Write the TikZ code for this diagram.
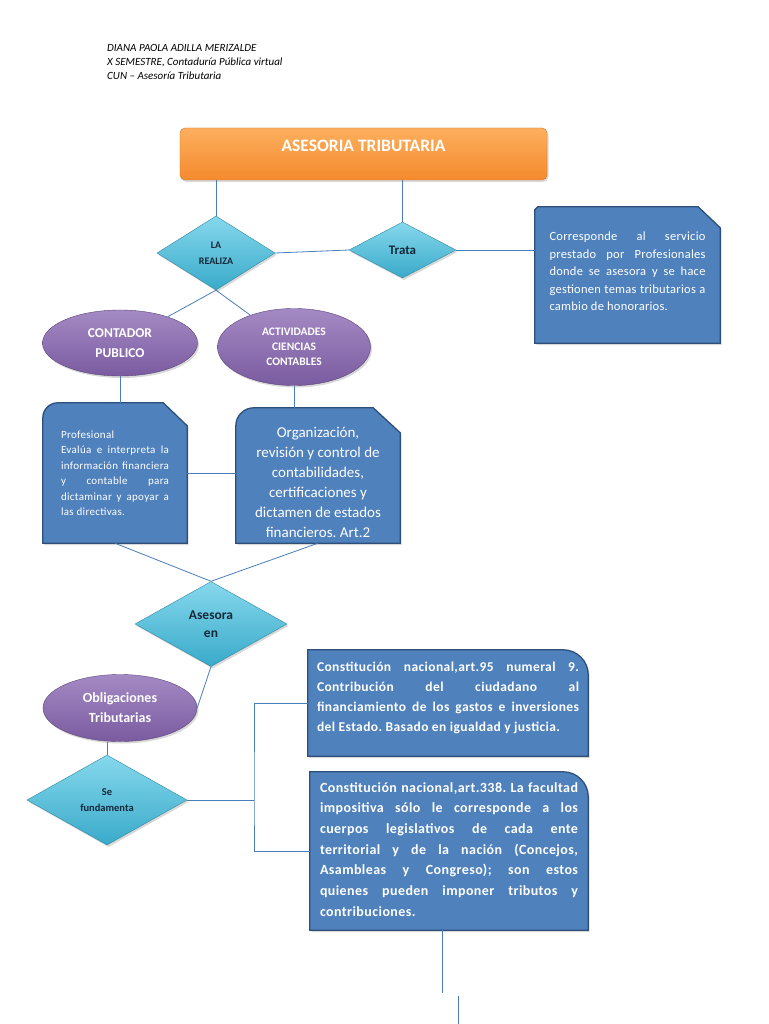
\documentclass[tikz,border=0pt]{standalone}
\usepackage{fontspec}
\setmainfont{Carlito}
\usetikzlibrary{shapes.geometric,shadows,backgrounds}

\definecolor{naranja}{HTML}{F58A2E}
\definecolor{naranjaclaro}{HTML}{FDAF5E}
\definecolor{cian}{HTML}{39AACA}
\definecolor{cianclaro}{HTML}{86D8EC}
\definecolor{morado}{HTML}{7A5BA0}
\definecolor{moradoclaro}{HTML}{A48AC4}
\definecolor{azul}{HTML}{4F81BD}
\definecolor{azulborde}{HTML}{2E4F7A}
\definecolor{linea}{HTML}{4A7EBB}
\definecolor{textorombo}{HTML}{15283A}

\tikzset{
	sombra/.style={drop shadow={opacity=0.3,shadow xshift=1.5pt,shadow yshift=-2pt}},
	rombo/.style={diamond, inner sep=0pt, top color=cianclaro, bottom color=cian, draw=cian!80!black, text=textorombo, align=center, sombra},
	elipse/.style={ellipse, inner sep=0pt, top color=moradoclaro, bottom color=morado, draw=morado!75!black, text=white, align=center, sombra},
	caja/.style={inner sep=0pt, text=white},
	cajafondo/.style={fill=azul, draw=azulborde, line width=1.3pt, sombra},
	enlace/.style={draw=linea, line width=0.8pt}
}

\begin{document}
\frenchspacing
\begin{tikzpicture}[x=1pt, y=-1pt]
		\useasboundingbox (0,0) rectangle (768,1024);
		% encabezado
		\node[anchor=north west, inner sep=0pt, align=left, font=\itshape\fontsize{11}{14}\selectfont] (autor) at (107,44) {DIANA PAOLA ADILLA MERIZALDE\\X SEMESTRE, Contaduría Pública virtual\\CUN -- Asesoría Tributaria};
		% titulo
		\node[minimum width=367pt, minimum height=52pt, rounded corners=5pt, top color=naranjaclaro, bottom color=naranja, draw=naranja!85!black, text=white, font=\bfseries\fontsize{17.5}{20}\selectfont, sombra] (tribu) at (363.5,154) {\raisebox{8pt}[\height][\depth]{ASESORIA TRIBUTARIA}};
		% rombos
		\node[rombo, minimum width=118pt, minimum height=74pt, font=\bfseries\fontsize{10}{16}\selectfont] (laR) at (216,253) {LA\\REALIZA};
		\node[rombo, minimum width=107pt, minimum height=56pt, font=\bfseries\fontsize{13}{16}\selectfont] (trata) at (402.5,250) {Trata};
		\node[rombo, minimum width=152pt, minimum height=85pt, font=\bfseries\fontsize{13.5}{18}\selectfont] (ases) at (211,624) {Asesora\\en};
		\node[rombo, minimum width=160pt, minimum height=90pt, font=\bfseries\fontsize{10.5}{16}\selectfont] (sef) at (107,800) {Se\\fundamenta};
		% elipses
		\node[elipse, minimum width=155pt, minimum height=66pt, font=\bfseries\fontsize{13.5}{20}\selectfont] (contador) at (120,343) {CONTADOR\\PUBLICO};
		\node[elipse, minimum width=153pt, minimum height=77pt, font=\bfseries\fontsize{11.5}{15}\selectfont] (activ) at (294,347) {ACTIVIDADES\\CIENCIAS\\CONTABLES};
		\node[elipse, minimum width=154pt, minimum height=67pt, font=\bfseries\fontsize{14}{20}\selectfont] (oblig) at (120,708) {Obligaciones\\Tributarias};
		% cajas de texto
		\node[caja, minimum width=185pt, minimum height=136pt] (defin) at (627.5,275) {\parbox[c][136pt][t]{156pt}{\fontsize{12.5}{17.5}\selectfont\addfontfeature{LetterSpace=2}\vspace*{21.5pt}\strut Corresponde al servicio\linebreak prestado por Profesionales\linebreak donde se asesora y se hace\linebreak gestionen temas tributarios a\linebreak cambio de honorarios.}};
		\node[caja, minimum width=144pt, minimum height=140pt] (prof) at (115,473) {\parbox[c][140pt][t]{108pt}{\fontsize{11}{15.5}\selectfont\addfontfeature{LetterSpace=3}\vspace*{24.5pt}\strut Profesional\\Evalúa e interpreta la\linebreak información financiera\linebreak y contable para\linebreak dictaminar y apoyar a\linebreak las directivas.}};
		\node[caja, minimum width=164pt, minimum height=135pt] (org) at (318,475.5) {\parbox[c][135pt][t]{150pt}{\centering\fontsize{15}{20}\selectfont\vspace*{15pt}\strut Organización,\\revisión y control de\\contabilidades,\\certificaciones y\\dictamen de estados\\financieros. Art.2}};
		\node[caja, minimum width=280pt, minimum height=106pt] (art95) at (448,703) {\parbox[c][106pt][t]{262pt}{\bfseries\fontsize{13.5}{20}\selectfont\addfontfeature{LetterSpace=3}\vspace*{7pt}\strut Constitución nacional,art.95 numeral 9.\linebreak Contribución del ciudadano al\linebreak financiamiento de los gastos e inversiones\linebreak del Estado. Basado en igualdad y justicia.}};
		\node[caja, minimum width=278pt, minimum height=158pt] (art338) at (449,851) {\parbox[c][158pt][t]{258pt}{\bfseries\fontsize{14}{20.7}\selectfont\addfontfeature{LetterSpace=3}\vspace*{5.5pt}\strut Constitución nacional,art.338. La facultad\linebreak impositiva sólo le corresponde a los\linebreak cuerpos legislativos de cada ente\linebreak territorial y de la nación (Concejos,\linebreak Asambleas y Congreso); son estos\linebreak quienes pueden imponer tributos y\linebreak contribuciones.}};
		% fondos de las cajas
		\begin{scope}[on background layer]
			\fill[white] (0,0) rectangle (768,1024);
			\filldraw[cajafondo] (defin.south west) -- ([yshift=-3pt]defin.north west) -- ([xshift=3pt]defin.north west) -- ([xshift=-22pt]defin.north east) -- ([yshift=-21pt]defin.north east) -- (defin.south east) -- cycle;
			\filldraw[cajafondo] (prof.south west) -- ([yshift=-15pt]prof.north west) arc[start angle=180, end angle=90, radius=15pt] -- ([xshift=-24pt]prof.north east) -- ([yshift=-23pt]prof.north east) -- (prof.south east) -- cycle;
			\filldraw[cajafondo] (org.south west) -- ([yshift=-18pt]org.north west) arc[start angle=180, end angle=90, radius=18pt] -- ([xshift=-27pt]org.north east) -- ([yshift=-25pt]org.north east) -- (org.south east) -- cycle;
			\filldraw[cajafondo] (art95.south west) -- (art95.north west) -- ([xshift=-25pt]art95.north east) arc[start angle=90, end angle=0, radius=25pt] -- (art95.south east) -- cycle;
			\filldraw[cajafondo] (art338.south west) -- (art338.north west) -- ([xshift=-25pt]art338.north east) arc[start angle=90, end angle=0, radius=25pt] -- (art338.south east) -- cycle;
		\end{scope}
		% conectores
		\coordinate (rama) at (254,800);
		\coordinate (cola1) at (442,993);
		\coordinate (cola2) at (458,996);
		\coordinate (cola3) at (458,1024);
		\draw[enlace] (laR.north |- tribu.south) -- (laR.north);
		\draw[enlace] (trata.north |- tribu.south) -- (trata.north);
		\draw[enlace] (laR.east) -- (trata.west);
		\draw[enlace] (trata.east) -- (trata.east -| defin.west);
		\draw[enlace] (laR.south) -- (contador);
		\draw[enlace] (laR.south) -- (activ);
		\draw[enlace] (contador.south) -- (contador.south |- prof.north);
		\draw[enlace] (activ.south) -- (activ.south |- org.north);
		\draw[enlace] (prof.east) -- (prof.east -| org.west);
		\draw[enlace] (prof.south) -- (ases.north);
		\draw[enlace] (org.south) -- (ases.north);
		\draw[enlace] (ases.south) -- (oblig.east);
		\draw[enlace] (sef.north |- oblig.south) -- (sef.north);
		\draw[enlace] (sef.east) -- (rama);
		\draw[enlace] (art95.west) -| (rama) |- (art338.west);
		\draw[enlace] (cola1 |- art338.south) -- (cola1);
		\draw[enlace] (cola2) -- (cola3);
	\end{tikzpicture}
\end{document}
